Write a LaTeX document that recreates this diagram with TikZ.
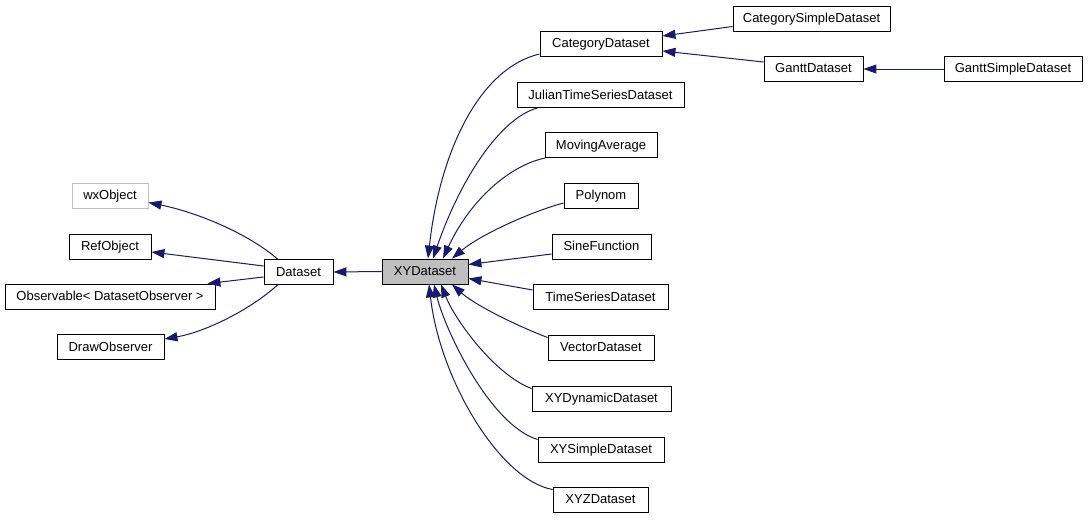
\documentclass[tikz,border=0pt]{standalone}
\usepackage{fontspec}
\setmainfont{Liberation Sans}
\usetikzlibrary{arrows.meta}
\definecolor{edgeblue}{RGB}{25,25,112}
\definecolor{boxgrey}{RGB}{191,191,191}
\begin{document}
\begin{tikzpicture}[x=1pt,y=-1pt,
  cls/.style={draw=black, line width=0.9pt, minimum height=25pt, inner sep=0pt,
    text height=9.5pt, text depth=1.5pt,
    font=\fontsize{13}{15}\selectfont, fill=white},
  edge/.style={draw=edgeblue, line width=1pt, -{Triangle[length=13pt,width=9pt]}}]
\useasboundingbox (0,0) rectangle (1091,519);
% left side
\node[cls, minimum width=76pt, draw=boxgrey] (wx) at (110,195.5) {wxObject};
\node[cls, minimum width=82pt] (ref) at (110,246.5) {RefObject};
\node[cls, minimum width=210pt] (obs) at (110,296.5) {Observable< DatasetObserver >};
\node[cls, minimum width=107pt] (drawobs) at (110.5,347) {DrawObserver};
\node[cls, minimum width=69pt] (dataset) at (298.5,272) {Dataset};
\node[cls, minimum width=86pt, fill=boxgrey] (xy) at (425,271.5) {XYDataset};
% middle column
\node[cls, minimum width=122pt] (cat) at (601,44) {CategoryDataset};
\node[cls, minimum width=167pt] (julian) at (600.5,95) {JulianTimeSeriesDataset};
\node[cls, minimum width=112pt] (moving) at (601,145) {MovingAverage};
\node[cls, minimum width=74pt] (polynom) at (601,195.5) {Polynom};
\node[cls, minimum width=99pt] (sine) at (601.5,246.5) {SineFunction};
\node[cls, minimum width=135pt] (ts) at (600.5,297) {TimeSeriesDataset};
\node[cls, minimum width=106pt] (vector) at (601,347.5) {VectorDataset};
\node[cls, minimum width=139pt] (xydyn) at (601.5,398.5) {XYDynamicDataset};
\node[cls, minimum width=126pt] (xysimple) at (601,449.5) {XYSimpleDataset};
\node[cls, minimum width=95pt] (xyz) at (600.5,499.5) {XYZDataset};
% right
\node[cls, minimum width=157pt] (catsimple) at (811.5,18.5) {CategorySimpleDataset};
\node[cls, minimum width=99pt] (gantt) at (813.5,69) {GanttDataset};
\node[cls, minimum width=138pt] (ganttsimple) at (1013,69) {GanttSimpleDataset};
% edges: Dataset to its bases
\draw[edge] ([xshift=14pt]dataset.north west) .. controls (250,235) and (200,213) .. ([yshift=-7pt]wx.east);
\draw[edge] ([yshift=6pt]dataset.west) -- ([yshift=-5.5pt]ref.east);
\draw[edge] ([yshift=-5pt]dataset.west) -- ([xshift=-8pt]obs.north east);
\draw[edge] ([xshift=14pt]dataset.south west) .. controls (250,310) and (205,332) .. ([yshift=8pt]drawobs.east);
\draw[edge] (xy.west) -- (dataset.east);
% edges: subclasses of XYDataset
\draw[edge] ([yshift=-10pt]cat.west) .. controls (480,68) and (440,150) .. ([xshift=3pt]xy.north);
\draw[edge] ([xshift=21pt]julian.south west) .. controls (500,118) and (460,180) .. ([xshift=8pt]xy.north);
\draw[edge] ([xshift=1pt]moving.south west) .. controls (510,165) and (470,200) .. ([xshift=18pt]xy.north);
\draw[edge] ([yshift=-7.5pt]polynom.west) .. controls (530,212) and (480,235) .. ([xshift=27pt]xy.north);
\draw[edge] ([yshift=-7.5pt]sine.west) -- ([yshift=7pt]xy.east);
\draw[edge] ([yshift=7pt]ts.west) -- ([yshift=-7pt]xy.east);
\draw[edge] ([yshift=10pt]vector.west) .. controls (515,325) and (475,305) .. ([xshift=27pt]xy.south);
\draw[edge] ([yshift=10pt]xydyn.west) .. controls (495,375) and (455,320) .. ([xshift=16pt]xy.south);
\draw[edge] ([yshift=10pt]xysimple.west) .. controls (490,425) and (445,330) .. ([xshift=9pt]xy.south);
\draw[edge] ([yshift=10pt]xyz.west) .. controls (500,480) and (440,380) .. ([xshift=4pt]xy.south);
% edges: category branch
\draw[edge] ([yshift=-8pt]catsimple.west) -- ([yshift=8pt]cat.east);
\draw[edge] ([yshift=7pt]gantt.west) -- ([yshift=-7pt]cat.east);
\draw[edge] (ganttsimple.west) -- (gantt.east);
\end{tikzpicture}
\end{document}
